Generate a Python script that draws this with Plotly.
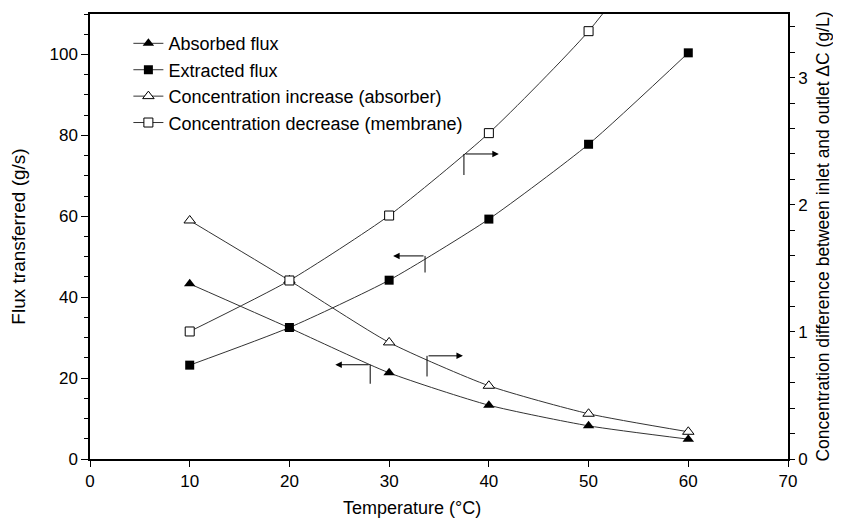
import plotly.graph_objects as go

temperature = [10, 20, 30, 40, 50, 60]
absorbed_flux = [43.3, 32.4, 21.3, 13.3, 8.2, 4.9]
extracted_flux = [23.2, 32.5, 44.2, 59.3, 77.8, 100.4]
conc_increase = [1.876, 1.404, 0.917, 0.576, 0.356, 0.214]
conc_decrease = [1.003, 1.404, 1.915, 2.563, 3.365, 4.40]

names = ["Absorbed flux", "Extracted flux",
         "Concentration increase (absorber)", "Concentration decrease (membrane)"]

FONT = "Liberation Sans, Arial, sans-serif"
LINE = dict(color="#333333", width=1, shape="spline", smoothing=0.6)

fig = go.Figure()
fig.add_trace(go.Scatter(x=temperature, y=absorbed_flux, name=names[0], mode="lines+markers",
                         line=LINE, marker=dict(symbol="triangle-up", size=10, color="black")))
fig.add_trace(go.Scatter(x=temperature, y=extracted_flux, name=names[1], mode="lines+markers",
                         line=LINE, marker=dict(symbol="square", size=9, color="black")))
fig.add_trace(go.Scatter(x=temperature, y=conc_increase, name=names[2], mode="lines+markers",
                         yaxis="y2", line=LINE,
                         marker=dict(symbol="triangle-up", size=10, color="white",
                                     line=dict(color="black", width=1))))
fig.add_trace(go.Scatter(x=temperature, y=conc_decrease, name=names[3], mode="lines+markers",
                         yaxis="y2", line=LINE,
                         marker=dict(symbol="square", size=9, color="white",
                                     line=dict(color="black", width=1))))

# axis-indicator arrows: (corner x, corner y, bottom y, tip x)
indicators = [
    (37.5, 75.4, 70.2, 41.0),
    (33.6, 50.2, 46.1, 30.4),
    (33.8, 25.5, 20.4, 37.4),
    (28.1, 23.3, 18.6, 24.6),
]
for cx, cy, by, tx in indicators:
    fig.add_shape(type="line", x0=cx, x1=cx, y0=by, y1=cy, xref="x", yref="y",
                  line=dict(color="black", width=1))
    fig.add_annotation(x=tx, y=cy, ax=cx, ay=cy, xref="x", yref="y", axref="x", ayref="y",
                       text="", showarrow=True, arrowhead=2, arrowsize=1.3, arrowwidth=1,
                       arrowcolor="black")

# x-axis title (placed slightly left of centre, as in the reference)
fig.add_annotation(text="Temperature (°C)", xref="paper", yref="paper",
                   x=0.461, y=-0.11, xanchor="center", yanchor="middle",
                   showarrow=False, font=dict(size=18))

# page body has an 8px margin, so the figure is made 8px smaller on each dimension
fig.update_layout(
    width=833, height=515,
    margin=dict(l=82, r=53, t=6, b=64, autoexpand=False),
    paper_bgcolor="white", plot_bgcolor="white",
    font=dict(family=FONT, size=17, color="black"),
    showlegend=True,
    legend=dict(x=0.055, y=0.975, xanchor="left", yanchor="top",
                bgcolor="rgba(0,0,0,0)", font=dict(size=18), tracegroupgap=0,
                itemwidth=30),
    xaxis=dict(range=[0, 70], dtick=10, tick0=0, showgrid=False, zeroline=False,
               showline=True, linecolor="black", linewidth=1.5, mirror=True,
               ticks="outside", ticklen=6, tickcolor="black", automargin=False,
               tickfont=dict(size=17)),
    yaxis=dict(range=[0, 110], dtick=20, tick0=0, showgrid=False, zeroline=False,
               showline=True, linecolor="black", linewidth=1.5, automargin=False,
               ticks="outside", ticklen=7, tickcolor="black",
               minor=dict(dtick=5, ticks="outside", ticklen=4, tickcolor="black"),
               title=dict(text="Flux transferred (g/s)", standoff=20, font=dict(size=19))),
    yaxis2=dict(range=[0, 3.5], dtick=1, tick0=0, overlaying="y", side="right",
                showgrid=False, zeroline=False, showline=True, linecolor="black",
                linewidth=1.5, ticks="outside", ticklen=5, tickcolor="black",
                automargin=False,
                minor=dict(dtick=0.2, ticks="outside", ticklen=5, tickcolor="black"),
                title=dict(text="Concentration difference between inlet and outlet ΔC (g/L)",
                           standoff=10, font=dict(size=17.5))),
)

fig.write_html("out.html")
